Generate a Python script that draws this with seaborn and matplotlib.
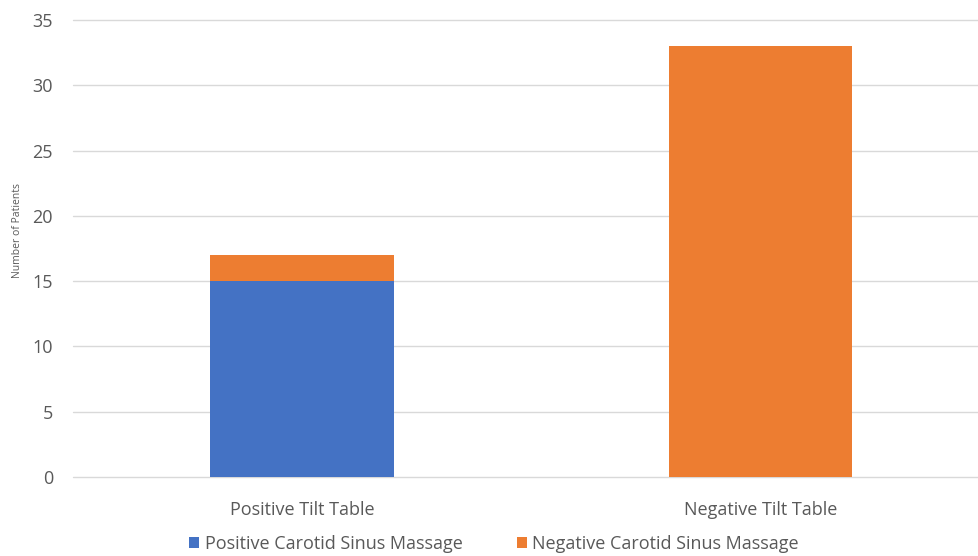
import matplotlib
matplotlib.use("Agg")
import matplotlib.pyplot as plt
import seaborn as sns
import pandas as pd
from matplotlib.patches import Patch

categories = ["Positive Tilt Table", "Negative Tilt Table"]
positive_csm = [15, 0]
negative_csm = [2, 33]
series_names = ["Positive Carotid Sinus Massage", "Negative Carotid Sinus Massage"]
y_ticks = [0, 5, 10, 15, 20, 25, 30, 35]

blue = "#4472C4"
orange = "#ED7D31"
text_col = "#595959"

sns.set_theme(style="white")
plt.rcParams["font.family"] = ["Open Sans", "DejaVu Sans"]

df = pd.DataFrame({
    "category": categories,
    "pos": positive_csm,
    "total": [a + b for a, b in zip(positive_csm, negative_csm)],
})

W, H = 979, 556
fig = plt.figure(figsize=(W / 100, H / 100), dpi=100)
ax = fig.add_axes([72.5 / W, 1 - 477 / H, (990 - 72.5) / W, (477 - 20) / H])
ax.set_axisbelow(True)
ax.yaxis.grid(True, color="#d9d9d9", linewidth=1)

sns.barplot(data=df, x="category", y="total", color=orange, width=0.4,
            saturation=1, ax=ax, order=categories, linewidth=0, edgecolor="none")
sns.barplot(data=df, x="category", y="pos", color=blue, width=0.4,
            saturation=1, ax=ax, order=categories, linewidth=0, edgecolor="none")

ax.set_ylim(0, 35)
ax.set_yticks(y_ticks)
ax.set_xlim(-0.5, 1.5)
for line in ax.get_ygridlines():
    line.set_clip_on(False)
for s in ax.spines.values():
    s.set_visible(False)
ax.tick_params(axis="both", length=0, labelsize=13, labelcolor=text_col)
ax.tick_params(axis="y", pad=14)
ax.tick_params(axis="x", pad=17)
ax.set_xlabel("")
ax.set_ylabel("")
fig.text(17.5 / W, 1 - 230 / H, "Number of Patients", rotation=90, fontsize=7.5,
         color=text_col, ha="center", va="center")

handles = [Patch(facecolor=blue, edgecolor="none"), Patch(facecolor=orange, edgecolor="none")]
fig.legend(handles, series_names, loc="center", bbox_to_anchor=(494 / W, 1 - 544 / H),
           ncol=2, frameon=False, fontsize=13, labelcolor=text_col,
           handlelength=0.55, handleheight=0.55, handletextpad=0.3, columnspacing=3.0,
           borderpad=0)

fig.savefig("out.png", dpi=100)
